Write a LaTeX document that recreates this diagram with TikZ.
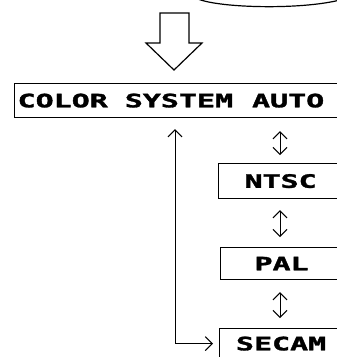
\documentclass[tikz,border=0pt]{standalone}
\usepackage{fontspec}
\newfontfamily\osdfont{DejaVu Sans Mono}[BoldFont={DejaVu Sans Mono Bold},BoldFeatures={FakeBold=1.5}]
\usetikzlibrary{arrows.meta,calc}
\tikzset{
  box/.style={draw, line width=1.2pt, inner sep=0pt, rectangle},
  osd/.style={font=\osdfont\bfseries\fontsize{18.5}{18.5}\selectfont},
  dbl/.style={line width=1pt, {Straight Barb[length=7pt,width=14pt]}-{Straight Barb[length=7pt,width=14pt]}},
  hollow/.style={draw, line width=1.2pt, fill=white, line join=miter}
}
\newcommand{\osdtext}[1]{\scalebox{1.62}[1]{#1}}
\begin{document}
\begin{tikzpicture}[x=1pt,y=-1pt]
\useasboundingbox (0,0) rectangle (337,357);
\clip (0,0) rectangle (337,357);
% top curve
\draw[line width=1.2pt] (198,-1) .. controls (220,8) and (300,10) .. (340,0);
% hollow arrow
\draw[hollow] (160,13) -- (189,13) -- (189,43) -- (202,43) -- (174,70) -- (146,43) -- (160,43) -- cycle;
% boxes
\node[box, osd, anchor=north west, minimum width=330pt, minimum height=34pt, text width=324pt, align=left, inner xsep=2.5pt] (auto) at (14,83) {\osdtext{COLOR}\hspace{17pt}\osdtext{SYSTEM}\hspace{19pt}\osdtext{AUTO}};
\node[box, osd, anchor=north west, minimum width=124pt, minimum height=35pt] (ntsc) at (218,163) {\osdtext{NTSC}};
\node[box, osd, anchor=north west, minimum width=122pt, minimum height=32pt] (pal) at (220,247) {\osdtext{PAL}};
\node[box, osd, anchor=north west, minimum width=123pt, minimum height=30pt] (secam) at (219,328) {\osdtext{SECAM}};
% double arrows
\draw[dbl] ($(auto.south -| 280,0)+(0,13)$) -- ($(ntsc.north -| 280,0)+(0,-8)$);
\draw[dbl] ($(ntsc.south -| 280,0)+(0,11)$) -- ($(pal.north -| 280,0)+(0,-10)$);
\draw[dbl] ($(pal.south -| 280,0)+(0,12)$) -- ($(secam.north -| 280,0)+(0,-10)$);
% return line
\draw[dbl] ($(secam.west)+(-6,0)$) -| ($(auto.south -| 175,0)+(0,11)$);
\end{tikzpicture}
\end{document}
